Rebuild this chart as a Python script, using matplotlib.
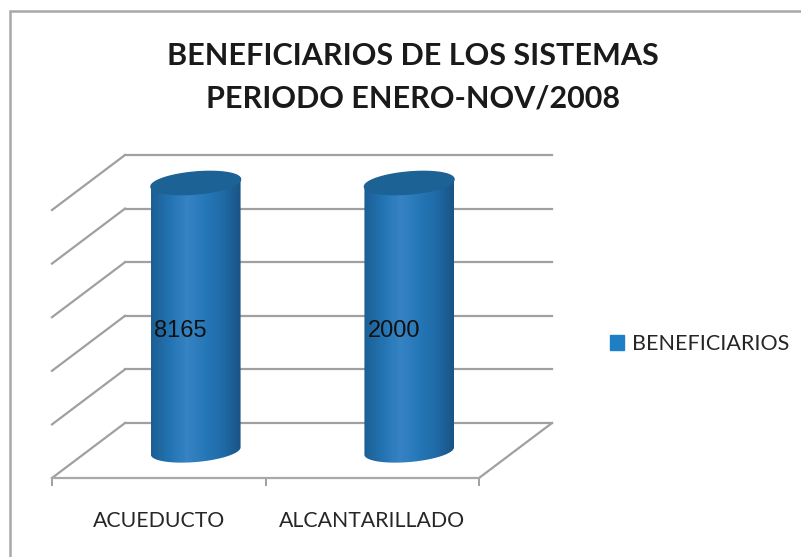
import numpy as np
import matplotlib
matplotlib.use("Agg")
import matplotlib.pyplot as plt
from matplotlib.patches import Patch, PathPatch
from matplotlib.path import Path
from matplotlib.transforms import Affine2D, IdentityTransform
from matplotlib.colors import LinearSegmentedColormap

categories = ["ACUEDUCTO", "ALCANTARILLADO"]
values = [8165, 2000]
series_name = "BENEFICIARIOS"
title_lines = "BENEFICIARIOS DE LOS SISTEMAS\nPERIODO ENERO-NOV/2008"
y_max = 2000  # the first bar runs past the axis top and gets cut off
y_step = 400

W, H = 801, 557
plt.rcParams["font.family"] = ["Lato", "DejaVu Sans"]
px_tr = IdentityTransform()

fig = plt.figure(figsize=(W / 100, H / 100), dpi=100)
ax = fig.add_axes([52 / W, 1 - 478 / H, (479 - 52) / W, (478 - 210) / H])
ax.set_xlim(0, len(categories))
ax.set_ylim(0, y_max)
ax.set_autoscale_on(False)
ax.patch.set_visible(False)

# outer chart frame, runs off the right and bottom edges
fig.add_artist(plt.Rectangle((9.5 / W, -0.02), 1.0, 1.0 - 11 / H + 0.02, transform=fig.transFigure,
                             fill=False, ec="#a8a8a8", lw=1.8))

for s in ["left", "right", "top"]:
    ax.spines[s].set_visible(False)
ax.spines["bottom"].set_color("#a8a8a8")
ax.spines["bottom"].set_linewidth(1.6)
ax.set_yticks([])
ax.set_xticks(range(len(categories) + 1))
ax.set_xticklabels([])
ax.tick_params(axis="x", which="major", length=6, width=1.4, color="#a0a0a0")
ax.set_xticks(np.arange(len(categories)) + 0.5, minor=True)
ax.set_xticklabels(categories, minor=True, fontsize=15.3, color="#262626")
ax.tick_params(axis="x", which="minor", length=0, pad=24)

# depth of the fake 3d box, in pixels
back = ax.transData + Affine2D().translate(73, 55)
mid = ax.transData + Affine2D().translate(37, 27)

for level in np.arange(0, y_max + 1, y_step):
    ax.plot([0, len(categories)], [level, level], color="#a0a0a0", lw=1.6, transform=back, clip_on=False)
    p0 = ax.transData.transform((0, level))
    p1 = back.transform((0, level))
    ax.plot([p0[0], p1[0]], [p0[1], p1[1]], color="#a0a0a0", lw=1.6, transform=px_tr, clip_on=False)
p0 = ax.transData.transform((len(categories), 0))
p1 = back.transform((len(categories), 0))
ax.plot([p0[0], p1[0]], [p0[1], p1[1]], color="#a0a0a0", lw=1.6, transform=px_tr, clip_on=False)

shade = LinearSegmentedColormap.from_list(
    "cyl", ["#1d5f94", "#2273b2", "#3783c4", "#2678b8", "#1f6ba8", "#1a5585"])


def ellipse(cx, cy, a=45, b=11, tilt=-5):
    t = np.linspace(0, 2 * np.pi, 81)
    x, y = a * np.cos(t), b * np.sin(t)
    r = np.radians(-tilt)
    return cx + x * np.cos(r) - y * np.sin(r), cy + x * np.sin(r) + y * np.cos(r)


for i, v in enumerate(values):
    h = min(v, y_max)
    x0, y0 = mid.transform((i + 0.5, 0))
    x1, y1 = mid.transform((i + 0.5, h))
    bx, by = ellipse(x0, y0)
    tx, ty = ellipse(x1, y1)
    # body = lower half of bottom ellipse, then up to the top edge
    px = np.r_[bx[40:], tx[0], tx[40]]
    py = np.r_[by[40:], ty[0], ty[40]]
    verts = np.column_stack([px, py])
    im = ax.imshow(np.linspace(0, 1, 90)[None, :], cmap=shade, aspect="auto",
                   extent=[x0 - 45, x0 + 45, y0 - 20, y1 + 20], transform=px_tr, zorder=3)
    body = PathPatch(Path(np.r_[verts, verts[:1]], closed=True), transform=px_tr, fc="none", ec="none")
    ax.add_patch(body)
    im.set_clip_box(fig.bbox)
    im.set_clip_path(body)
    ax.fill(tx, ty, color="#1c6295", transform=px_tr, zorder=4, clip_on=False)
    # label sits a bit left of the bar centre
    ax.annotate(str(v), (i + 0.5, 906 - 8), xycoords=mid, xytext=(-11, 0), textcoords="offset points",
                ha="center", va="center", fontsize=17, family="Liberation Sans", color="#111111", zorder=5)

fig.text(413 / W, 1 - 77 / H, title_lines, ha="center", va="center", fontsize=22, fontweight="bold",
         color="#1a1a1a", linespacing=1.65)

fig.legend(handles=[Patch(color="#1f7fc4", label=series_name)], loc="center left",
           bbox_to_anchor=(591 / W, 1 - 344 / H), frameon=False, fontsize=15.5,
           handlelength=0.65, handleheight=0.65, handletextpad=0.37, labelcolor="#262626")

fig.savefig("out.png", dpi=100)
